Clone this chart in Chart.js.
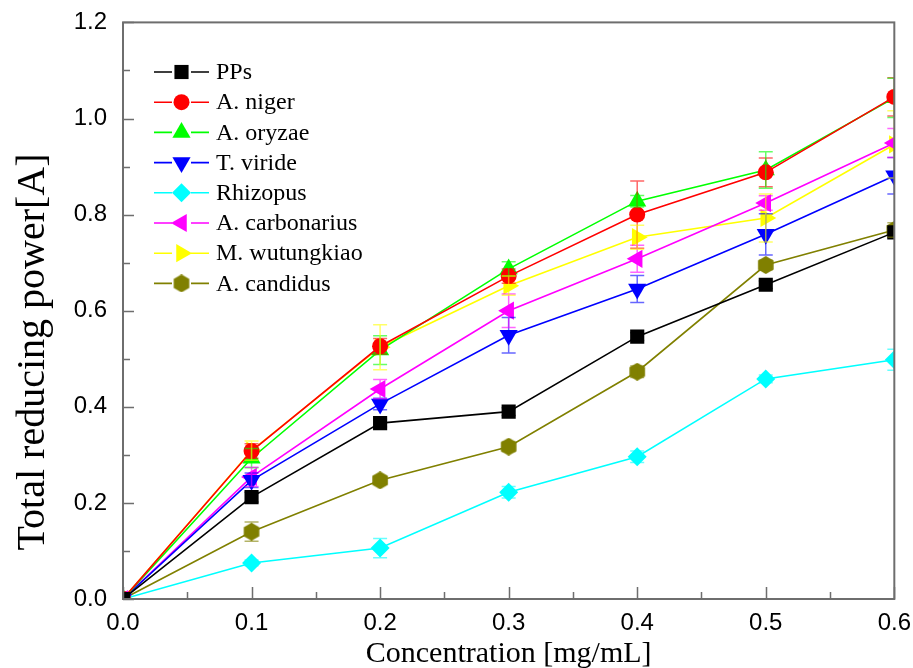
<!DOCTYPE html>
<html>
<head>
<meta charset="utf-8">
<script src="https://cdn.jsdelivr.net/npm/chart.js@4.4.0/dist/chart.umd.min.js"></script>
<style>
  html, body { margin: 0; padding: 0; background: #fff; }
  #wrap { width: 913px; height: 668px; }
</style>
</head>
<body>
<div id="wrap"><canvas id="chart"></canvas></div>
<script>
// concentration in mg/mL
const concentration = [0, 0.1, 0.2, 0.3, 0.4, 0.5, 0.6];

const pps          = [0, 0.212, 0.366, 0.390, 0.546, 0.654, 0.763];
const aNiger       = [0, 0.308, 0.526, 0.672, 0.800, 0.888, 1.045];
const aOryzae      = [0, 0.293, 0.518, 0.687, 0.828, 0.893, 1.043];
const tViride      = [0, 0.247, 0.406, 0.549, 0.645, 0.759, 0.881];
const rhizopus     = [0, 0.075, 0.106, 0.222, 0.296, 0.458, 0.498];
const aCarbonarius = [0, 0.254, 0.437, 0.600, 0.708, 0.824, 0.949];
const mWutungkiao  = [0, 0.309, 0.524, 0.652, 0.753, 0.793, 0.946];
const aCandidus    = [0, 0.140, 0.247, 0.317, 0.473, 0.695, 0.768];

// standard deviations (error bars)
const ppsErr          = [0, 0.010, 0.008, 0.008, 0.008, 0.008, 0.010];
const aNigerErr       = [0, 0.015, 0.016, 0.015, 0.070, 0.030, 0.040];
const aOryzaeErr      = [0, 0.020, 0.030, 0.015, 0.012, 0.038, 0.041];
const tVirideErr      = [0, 0.015, 0.012, 0.037, 0.028, 0.043, 0.038];
const rhizopusErr     = [0, 0.006, 0.020, 0.012, 0.012, 0.008, 0.022];
const aCarbonariusErr = [0, 0.020, 0.020, 0.035, 0.028, 0.015, 0.030];
const mWutungkiaoErr  = [0, 0.020, 0.047, 0.020, 0.025, 0.050, 0.070];
const aCandidusErr    = [0, 0.020, 0.008, 0.010, 0.012, 0.010, 0.015];

const seriesNames = ['PPs', 'A. niger', 'A. oryzae', 'T. viride', 'Rhizopus', 'A. carbonarius', 'M. wutungkiao', 'A. candidus'];
const seriesValues = [pps, aNiger, aOryzae, tViride, rhizopus, aCarbonarius, mWutungkiao, aCandidus];
const seriesErrors = [ppsErr, aNigerErr, aOryzaeErr, tVirideErr, rhizopusErr, aCarbonariusErr, mWutungkiaoErr, aCandidusErr];

const xTicks = [0, 0.1, 0.2, 0.3, 0.4, 0.5, 0.6];
const yTicks = [0, 0.2, 0.4, 0.6, 0.8, 1.0, 1.2];

const colors = ['#000000', '#ff0000', '#00ff00', '#0000ff', '#00ffff', '#ff00ff', '#ffff00', '#808000'];

function hexagon(color, r) {
  const c = document.createElement('canvas');
  c.width = c.height = Math.ceil(2 * r);
  const g = c.getContext('2d');
  g.fillStyle = color;
  g.beginPath();
  for (let i = 0; i < 6; i++) {
    const a = -Math.PI / 2 + i * Math.PI / 3;
    const px = r + r * Math.cos(a), py = r + r * Math.sin(a);
    i ? g.lineTo(px, py) : g.moveTo(px, py);
  }
  g.closePath();
  g.fill();
  return c;
}

const markers = [
  { style: 'rect', radius: 10, rotation: 0 },
  { style: 'circle', radius: 8, rotation: 0 },
  { style: 'triangle', radius: 10.5, rotation: 0 },
  { style: 'triangle', radius: 10.5, rotation: 180 },
  { style: 'rectRot', radius: 9.5, rotation: 0 },
  { style: 'triangle', radius: 10.5, rotation: -90 },
  { style: 'triangle', radius: 10.5, rotation: 90 },
  { style: hexagon('#808000', 9), radius: 9, rotation: 0 },
];

const AXIS = '#6e6e6e';

const datasets = seriesNames.map((name, i) => ({
  label: name,
  data: concentration.map((c, j) => ({ x: c, y: seriesValues[i][j] })),
  borderColor: colors[i],
  backgroundColor: colors[i],
  borderWidth: 1.6,
  pointStyle: markers[i].style,
  pointRadius: markers[i].radius,
  pointRotation: markers[i].rotation,
  pointBorderWidth: 0,
  pointHoverRadius: markers[i].radius,
  tension: 0,
}));

const errorBars = {
  id: 'errorBars',
  afterDatasetsDraw(chart) {
    const { ctx, chartArea, scales: { x, y } } = chart;
    ctx.save();
    ctx.beginPath();
    ctx.rect(chartArea.left, chartArea.top, chartArea.right - chartArea.left, chartArea.bottom - chartArea.top);
    ctx.clip();
    ctx.globalAlpha = 0.6;
    ctx.lineWidth = 1.5;
    chart.data.datasets.forEach((ds, i) => {
      ctx.strokeStyle = colors[i];
      ds.data.forEach((p, j) => {
        const e = seriesErrors[i][j];
        if (!e) return;
        const px = x.getPixelForValue(p.x);
        const y1 = y.getPixelForValue(p.y + e);
        const y2 = y.getPixelForValue(p.y - e);
        ctx.beginPath();
        ctx.moveTo(px, y1); ctx.lineTo(px, y2);
        ctx.moveTo(px - 7, y1); ctx.lineTo(px + 7, y1);
        ctx.moveTo(px - 7, y2); ctx.lineTo(px + 7, y2);
        ctx.stroke();
      });
    });
    ctx.restore();
  }
};

const frame = {
  id: 'frame',
  afterDraw(chart) {
    const { ctx, chartArea: a, scales: { x, y } } = chart;
    ctx.save();
    ctx.strokeStyle = AXIS;
    ctx.lineWidth = 2;
    ctx.strokeRect(a.left, a.top, a.right - a.left, a.bottom - a.top);
    ctx.lineWidth = 1.5;
    ctx.beginPath();
    for (let v = 0; v <= 0.6001; v += 0.05) {
      const px = Math.round(x.getPixelForValue(v)) + 0.5;
      const major = Math.abs(v * 10 - Math.round(v * 10)) < 1e-6;
      ctx.moveTo(px, a.bottom);
      ctx.lineTo(px, a.bottom - (major ? 12 : 7));
    }
    for (let v = 0; v <= 1.2001; v += 0.1) {
      const py = Math.round(y.getPixelForValue(v)) + 0.5;
      const major = Math.abs(v * 5 - Math.round(v * 5)) < 1e-6;
      ctx.moveTo(a.left, py);
      ctx.lineTo(a.left + (major ? 11 : 7), py);
    }
    ctx.stroke();

    // y axis title
    ctx.fillStyle = '#000';
    ctx.font = '40px "Liberation Serif", "Times New Roman", serif';
    ctx.textAlign = 'center';
    ctx.textBaseline = 'middle';
    ctx.translate(33, 352);
    ctx.rotate(-Math.PI / 2);
    ctx.fillText('Total reducing power[A]', 0, 0);
    ctx.restore();

    // legend
    ctx.save();
    ctx.font = '24px "Liberation Serif", "Times New Roman", serif';
    ctx.textBaseline = 'middle';
    ctx.textAlign = 'left';
    chart.data.datasets.forEach((ds, i) => {
      const ly = 72 + i * 30.2;
      ctx.strokeStyle = colors[i];
      ctx.fillStyle = colors[i];
      ctx.lineWidth = 1.6;
      ctx.beginPath();
      ctx.moveTo(154, ly); ctx.lineTo(172, ly);
      ctx.moveTo(191, ly); ctx.lineTo(209, ly);
      ctx.stroke();
      Chart.helpers.drawPoint(ctx, {
        pointStyle: markers[i].style,
        radius: markers[i].radius,
        rotation: markers[i].rotation,
        borderWidth: 0,
      }, 181.5, ly);
      ctx.fillStyle = '#000';
      ctx.fillText(ds.label, 216, ly + 1);
    });
    ctx.restore();
  }
};

new Chart(document.getElementById('chart'), {
  type: 'line',
  data: { datasets },
  options: {
    responsive: true,
    maintainAspectRatio: false,
    animation: false,
    layout: { padding: { top: 12, right: 13 } },
    plugins: { legend: { display: false }, tooltip: { enabled: false } },
    scales: {
      x: {
        type: 'linear',
        min: 0,
        max: 0.6,
        afterFit(scale) { scale.height = 69; },
        afterBuildTicks(scale) { scale.ticks = xTicks.map(v => ({ value: v })); },
        grid: { display: false },
        border: { display: false },
        ticks: {
          padding: 2,
          color: '#000',
          font: { family: '"Liberation Sans", Arial, sans-serif', size: 24 },
          callback: v => v.toFixed(1),
        },
        title: {
          display: true,
          text: 'Concentration [mg/mL]',
          color: '#000',
          padding: { top: 0, bottom: -4 },
          font: { family: '"Liberation Serif", "Times New Roman", serif', size: 30 },
        },
      },
      y: {
        type: 'linear',
        min: 0,
        max: 1.2,
        afterFit(scale) { scale.width = 123; },
        afterBuildTicks(scale) { scale.ticks = yTicks.map(v => ({ value: v })); },
        grid: { display: false },
        border: { display: false },
        ticks: {
          padding: 8,
          color: '#000',
          font: { family: '"Liberation Sans", Arial, sans-serif', size: 24 },
          callback: v => v.toFixed(1),
        },
      },
    },
  },
  plugins: [errorBars, frame],
});
</script>
</body>
</html>
